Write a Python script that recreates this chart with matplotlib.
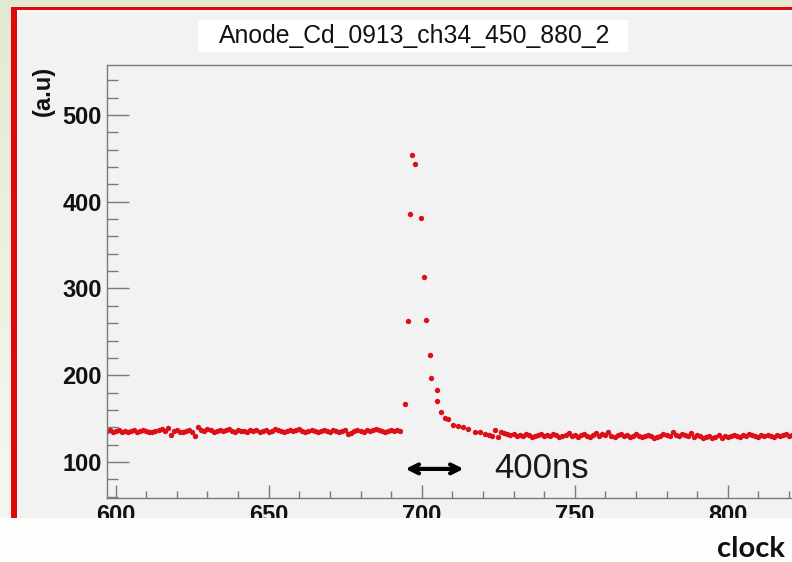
import numpy as np
import matplotlib
matplotlib.use("Agg")
import matplotlib.pyplot as plt
from matplotlib.patches import Rectangle
from matplotlib.ticker import MultipleLocator

# ---- data -----------------------------------------------------------------
title = "Anode_Cd_0913_ch34_450_880_2"
y_label = "(a.u)"
x_label = "clock"
span_label = "400ns"

# baseline before the pulse (one sample per clock, 597..693)
pre_x = np.arange(597, 694)
pre_y = [136, 137, 135, 136, 137, 135, 136, 134, 136, 137,
         135, 136, 137, 136, 134, 135, 136, 137, 138, 136,
         139, 131, 136, 137, 134, 135, 136, 137, 135, 130,
         140, 137, 136, 138, 137, 135, 136, 137, 136, 137,
         138, 136, 135, 137, 136, 136, 135, 137, 136, 137,
         135, 136, 137, 135, 136, 138, 137, 136, 135, 136,
         137, 136, 137, 138, 136, 135, 136, 137, 136, 135,
         136, 137, 136, 135, 137, 136, 134, 136, 137, 132,
         133, 136, 137, 136, 135, 137, 136, 137, 138, 137,
         136, 135, 136, 137, 136, 137, 136]

# pulse: rise, peak and decay
pulse_x = [694.6, 695.4, 696.2, 696.7, 697.9, 699.7, 700.8, 701.5, 702.6,
           703.1, 704.9, 705.1, 706.4, 707.6, 708.7, 710.3, 712.0, 713.6,
           715.2, 717.4, 719.0, 720.7]
pulse_y = [167, 262, 386, 454, 444, 381, 313, 264, 223,
           197, 183, 170, 158, 151, 149, 143, 141, 140,
           138, 135, 134, 132]

# baseline after the pulse (722..821)
post_x = np.arange(722, 822)
post_y = [131, 130, 137, 129, 134, 133, 132, 131, 132, 130,
          131, 130, 132, 131, 129, 130, 131, 132, 130, 131,
          130, 132, 131, 129, 130, 131, 133, 130, 131, 129,
          131, 132, 130, 129, 131, 133, 130, 132, 131, 134,
          130, 129, 131, 132, 130, 131, 129, 130, 132, 130,
          129, 130, 131, 130, 128, 129, 130, 132, 131, 130,
          134, 131, 130, 132, 131, 130, 133, 129, 131, 130,
          128, 129, 130, 128, 129, 131, 128, 130, 129, 130,
          131, 130, 129, 131, 130, 132, 131, 130, 129, 131,
          130, 131, 130, 129, 131, 130, 131, 132, 130, 131]

x_ticks = [600, 650, 700, 750, 800]
y_ticks = [100, 200, 300, 400, 500]
span_start, span_end, span_level = 694.7, 713.7, 92

# ---- figure ---------------------------------------------------------------
W, H = 792, 562
fig = plt.figure(figsize=(W / 100, H / 100), dpi=100)
fig.patch.set_facecolor("#fdfdfb")


def box(x0, y0, x1, y1):
    """pixel box (top-left origin) -> figure-fraction rectangle args"""
    return (x0 / W, 1 - y1 / H), (x1 - x0) / W, (y1 - y0) / H


def frect(x0, y0, x1, y1, color, z):
    xy, w, h = box(x0, y0, x1, y1)
    r = Rectangle(xy, w, h, transform=fig.transFigure, facecolor=color,
                  edgecolor="none", zorder=z)
    fig.add_artist(r)
    return r


# slide background: green top strip and a fading left strip
frect(0, 0, W, 7, "#e3e9d1", -5)
gax = fig.add_axes([0, 1 - 518 / H, 11 / W, 518 / H], zorder=-6)
top_c = np.array([0xe3, 0xe9, 0xd1]) / 255
bot_c = np.array([0xf6, 0xf8, 0xf0]) / 255
t = np.linspace(0, 1, 200)[:, None]
grad = (top_c * (1 - t) + bot_c * t)[:, None, :]
gax.imshow(grad, aspect="auto", extent=[0, 1, 0, 1])
gax.set_axis_off()

# red canvas frame and grey canvas
frect(11, 6.5, W + 5, 518, "#dd0a0a", -4)
frect(17, 9.5, W + 5, 518, "#f7f6f6", -3)
frect(20, 13, W + 5, 518, "#f2f2f2", -3)

# ---- plot axes --------------------------------------------------------------
xy, w, h = box(107, 65, W, 497.7)
ax = fig.add_axes([xy[0], xy[1], w, h])
ax.set_facecolor("#f2f2f2")
ax.set_xlim(597.16, 821.0)
ax.set_ylim(58.8, 557.6)

marker_kw = dict(linestyle="none", marker="o", markersize=3.9,
                 markeredgewidth=0, color="#dc1019")
ax.plot(pre_x, pre_y, **marker_kw)
ax.plot(pulse_x, pulse_y, **marker_kw)
ax.plot(post_x, post_y, **marker_kw)

for side in ("left", "top", "bottom"):
    ax.spines[side].set_color("#7a7a7a")
    ax.spines[side].set_linewidth(1.0)
ax.spines["right"].set_visible(False)

ax.set_xticks(x_ticks)
ax.set_yticks(y_ticks)
ax.xaxis.set_minor_locator(MultipleLocator(10))
ax.yaxis.set_minor_locator(MultipleLocator(20))
ax.tick_params(axis="both", which="both", direction="in", color="#7a7a7a",
               width=1.0, top=False, right=False)
ax.tick_params(axis="y", which="major", length=15.8, pad=3.6)
ax.tick_params(axis="y", which="minor", length=7.9)
ax.tick_params(axis="x", which="major", length=9.2, pad=4.5)
ax.tick_params(axis="x", which="minor", length=5.0)
for lab in ax.get_xticklabels() + ax.get_yticklabels():
    lab.set_fontfamily("Liberation Sans")
    lab.set_fontweight("bold")
    lab.set_fontsize(17)
    lab.set_color("#111111")

# time span marker
ax.annotate("", xy=(span_end, span_level), xytext=(span_start, span_level),
            arrowprops=dict(arrowstyle="<->", lw=3.0, color="black",
                            shrinkA=0, shrinkB=0, mutation_scale=16))
ax.text(723.8, span_level, span_label, fontfamily="Liberation Sans",
        fontsize=25, va="center", ha="left", color="#1a1a1a")

# ---- texts around the axes -----------------------------------------------
frect(198, 20, 628, 52, "#ffffff", 2)
fig.text(415 / W, 1 - 36.5 / H, title, fontfamily="Liberation Sans",
         fontsize=17.8, ha="center", va="center", color="#111111", zorder=3)

fig.text(43 / W, 1 - 91 / H, y_label, rotation=90, fontfamily="Liberation Sans",
         fontweight="bold", fontsize=17, ha="center", va="center",
         color="#111111")

# white band below the canvas
frect(0, 518, W, H, "#fdfdfb", 5)
fig.text(785 / W, 1 - 549 / H, x_label, fontfamily="Lato", fontweight="bold",
         fontsize=21, ha="right", va="center", color="#111111", zorder=6)

fig.savefig("out.png", dpi=100, facecolor=fig.get_facecolor())
